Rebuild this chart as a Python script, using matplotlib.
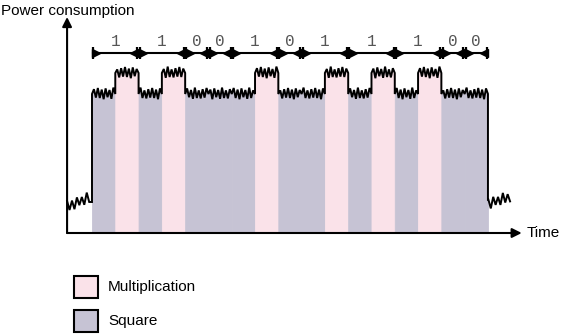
import numpy as np
import matplotlib.pyplot as plt
from matplotlib.patches import Rectangle

# exponent bits processed by square-and-multiply
bits = [1, 1, 0, 0, 1, 0, 1, 1, 1, 0, 0]
bit_labels = [str(b) for b in bits]

# power levels (arbitrary units)
level_square = 6.95
level_mult = 8.0
idle_left = [1.3, 1.75]
idle_right = [1.45, 1.8]

# small fixed zigzag pattern for the "noisy" trace
jitter = [-0.22, 0.24, -0.18, 0.3, -0.2, 0.22, -0.26, 0.28, -0.16, 0.2, -0.24, 0.32, -0.2, 0.18]

color_mult = "#fae2e9"
color_square = "#c6c3d4"

fig = plt.figure(figsize=(5.62, 3.35), dpi=100)
ax = fig.add_axes([0, 0, 1, 1])
ax.set_xlim(-3.95, 20.18)
ax.set_ylim(-5.1, 11.65)
ax.axis("off")

# sequence of operations: one square per bit, one multiply per 1-bit
ops = []
for b in bits:
    ops.append("S")
    if b:
        ops.append("M")

def zig(t0, t1, y0, y1, n, k0=0):
    xs = np.linspace(t0, t1, n)
    base = np.linspace(y0, y1, n)
    ys = base + np.array([jitter[(k0 + i) % len(jitter)] for i in range(n)])
    return xs, ys

trace_x, trace_y = [], []

# idle before computation
xs, ys = zig(-1.07, -0.12, idle_left[0], idle_left[1], 10, 3)
trace_x += list(xs) + [0.0]
trace_y += list(ys) + [ys[-1]]

k = 0
for i, op in enumerate(ops):
    lvl = level_mult if op == "M" else level_square
    col = color_mult if op == "M" else color_square
    xs, ys = zig(i, i + 1, lvl, lvl, 13, k)
    ys[0] = lvl
    ys[-1] = lvl
    k += 12
    ax.fill_between(xs, 0, ys, facecolor=col, edgecolor=col, lw=0.6)
    trace_x += list(xs)
    trace_y += list(ys)

# idle after computation
n_ops = len(ops)
xs, ys = zig(n_ops + 0.02, n_ops + 0.95, idle_right[0], idle_right[1], 10, 5)
trace_x += [n_ops] + list(xs)
trace_y += [ys[0]] + list(ys)

ax.plot(trace_x, trace_y, color="black", lw=1.4, solid_joinstyle="miter")

# axes arrows
ax0 = -1.07
ax.annotate("", xy=(ax0, 10.8), xytext=(ax0, 0),
            arrowprops=dict(arrowstyle="-|>", lw=1.5, color="black",
                            mutation_scale=14, shrinkA=0, shrinkB=0))
ax.annotate("", xy=(18.45, 0), xytext=(ax0, 0),
            arrowprops=dict(arrowstyle="-|>", lw=1.5, color="black",
                            mutation_scale=14, shrinkA=0, shrinkB=0))
ax.text(-3.92, 11.1, "Power consumption", fontsize=11, family="Liberation Sans",
        va="center", ha="left")
ax.text(18.65, 0, "Time", fontsize=11, family="Liberation Sans",
        va="center", ha="left")

# brackets over each bit
t = 0
for b, lab in zip(bits, bit_labels):
    dur = 2 if b else 1
    t0, t1 = t + 0.05, t + dur - 0.05
    ax.plot([t0, t1], [9.0, 9.0], color="black", lw=1.5)
    ax.plot([t0, t1], [9.0, 9.0], ls="none", marker="|", ms=8, mew=1.6, color="black")
    ax.plot([t0 + 0.14], [9.0], ls="none", marker=">", ms=6, color="black")
    ax.plot([t1 - 0.14], [9.0], ls="none", marker="<", ms=6, color="black")
    ax.text((t0 + t1) / 2, 9.6, lab, fontsize=11.5, family="Liberation Mono",
            color="#555555", ha="center", va="center")
    t += dur

# legend
legend_items = [("Multiplication", color_mult), ("Square", color_square)]
legend_y = [-2.7, -4.42]
for (name, col), ly in zip(legend_items, legend_y):
    ax.add_patch(Rectangle((-0.77, ly - 0.55), 1.03, 1.1, facecolor=col,
                           edgecolor="black", lw=1.5))
    ax.text(0.69, ly, name, fontsize=11, family="Liberation Sans",
            va="center", ha="left")

fig.savefig("out.png", dpi=100)
